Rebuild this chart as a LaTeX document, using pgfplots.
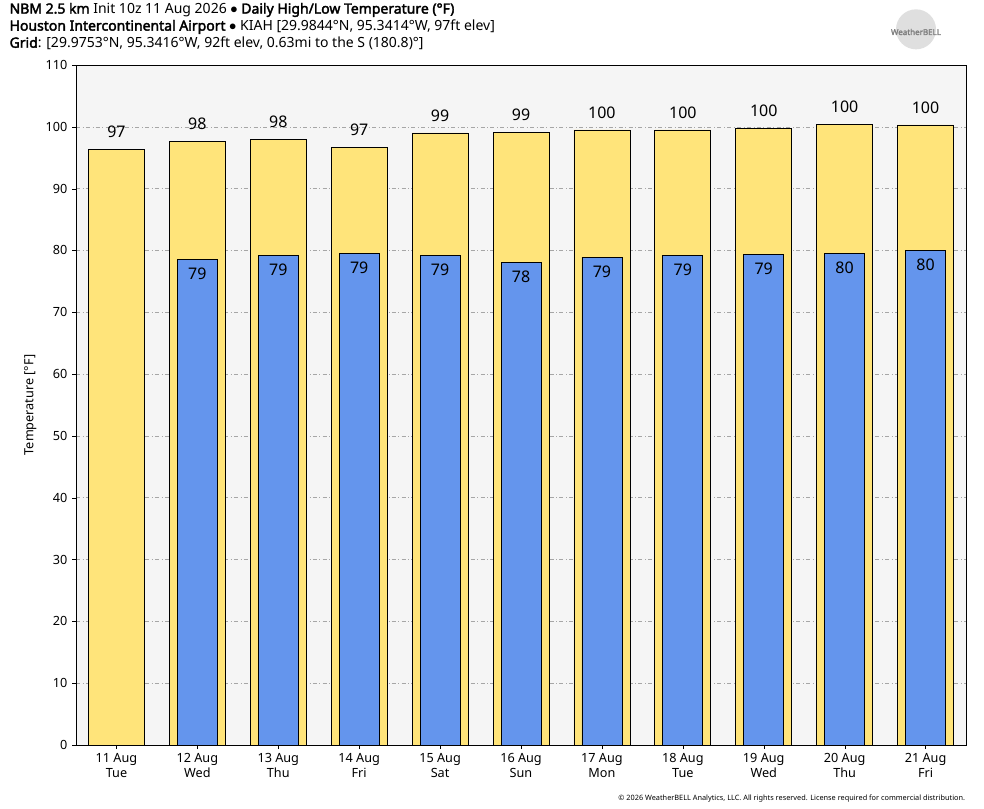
\documentclass[border=0pt]{standalone}
\usepackage{pgfplots}
\pgfplotsset{compat=1.18}
\usepackage{fontspec}
\setmainfont{Noto Sans}[AutoFakeBold=2.5]
\definecolor{hi}{HTML}{FFE47A}
\definecolor{lo}{HTML}{6495ED}
\begin{document}
\begin{tikzpicture}
\path[use as bounding box,fill=white] (0,0) rectangle (738pt,606pt);
\node[anchor=north west,inner sep=0,align=left,font=\fontsize{10.5}{12.8}\selectfont] at (7pt,604pt)
{\textbf{NBM 2.5 km} Init 10z 11 Aug 2026 $\bullet$ \textbf{Daily High/Low Temperature (\textdegree F)}\\
\textbf{Houston Intercontinental Airport} $\bullet$ KIAH [29.9844\textdegree N, 95.3414\textdegree W, 97ft elev]\\
\textbf{Grid}: [29.9753\textdegree N, 95.3416\textdegree W, 92ft elev, 0.63mi to the S (180.8)\textdegree]};
\node[anchor=south east,inner sep=0,font=\fontsize{5.5}{6}\selectfont] at (724pt,4pt) {\textcopyright\ 2026 WeatherBELL Analytics, LLC. All rights reserved. License required for commercial distribution.};
\node[circle,fill=gray!25,minimum size=30pt,inner sep=0] at (687pt,584pt) {};
\node[font=\fontsize{6}{7}\selectfont\bfseries,text=gray] at (687pt,582pt) {WeatherBELL};
\begin{axis}[at={(57pt,47.25pt)},anchor=south west,scale only axis,
 width=667.5pt,height=510pt,
 xmin=-0.5,xmax=10.5,ymin=0,ymax=110,
 axis background/.style={fill=black!4},
 ytick={0,10,...,110},
 xtick={0,...,10},
 xticklabels={{11 Aug\\Tue},{12 Aug\\Wed},{13 Aug\\Thu},{14 Aug\\Fri},{15 Aug\\Sat},{16 Aug\\Sun},{17 Aug\\Mon},{18 Aug\\Tue},{19 Aug\\Wed},{20 Aug\\Thu},{21 Aug\\Fri}},
 xticklabel style={align=center,font=\fontsize{9.5}{11}\selectfont},
 yticklabel style={font=\fontsize{9.5}{11}\selectfont},
 /pgf/number format/assume math mode=true,
 ymajorgrids,
 grid style={gray!70,dash dot,line width=0.4pt},
 tick style={black},
 tick align=outside,
 major tick length=3pt,
 xtick pos=bottom, ytick pos=left,
 ylabel={Temperature [\textdegree F]},
 ylabel style={font=\fontsize{9.5}{11}\selectfont},
 point meta=explicit symbolic,
 nodes near coords,
 every node near coord/.append style={font=\fontsize{12}{14}\selectfont,black},
]
\addplot[ybar,bar width=42pt,fill=hi,draw=black,line width=0.6pt,
 every node near coord/.append style={anchor=south,yshift=5pt}] coordinates {
(0,96.4)[97] (1,97.7)[98] (2,98.0)[98] (3,96.7)[97] (4,99.0)[99] (5,99.1)[99]
(6,99.5)[100] (7,99.5)[100] (8,99.8)[100] (9,100.4)[100] (10,100.3)[100]};
\addplot[ybar,bar width=30pt,fill=lo,draw=black,line width=0.6pt,
 every node near coord/.append style={anchor=north,yshift=-3pt}] coordinates {
(1,78.6)[79] (2,79.2)[79] (3,79.5)[79] (4,79.2)[79] (5,78.1)[78]
(6,78.9)[79] (7,79.2)[79] (8,79.4)[79] (9,79.5)[80] (10,80.0)[80]};
\end{axis}
\end{tikzpicture}
\end{document}
